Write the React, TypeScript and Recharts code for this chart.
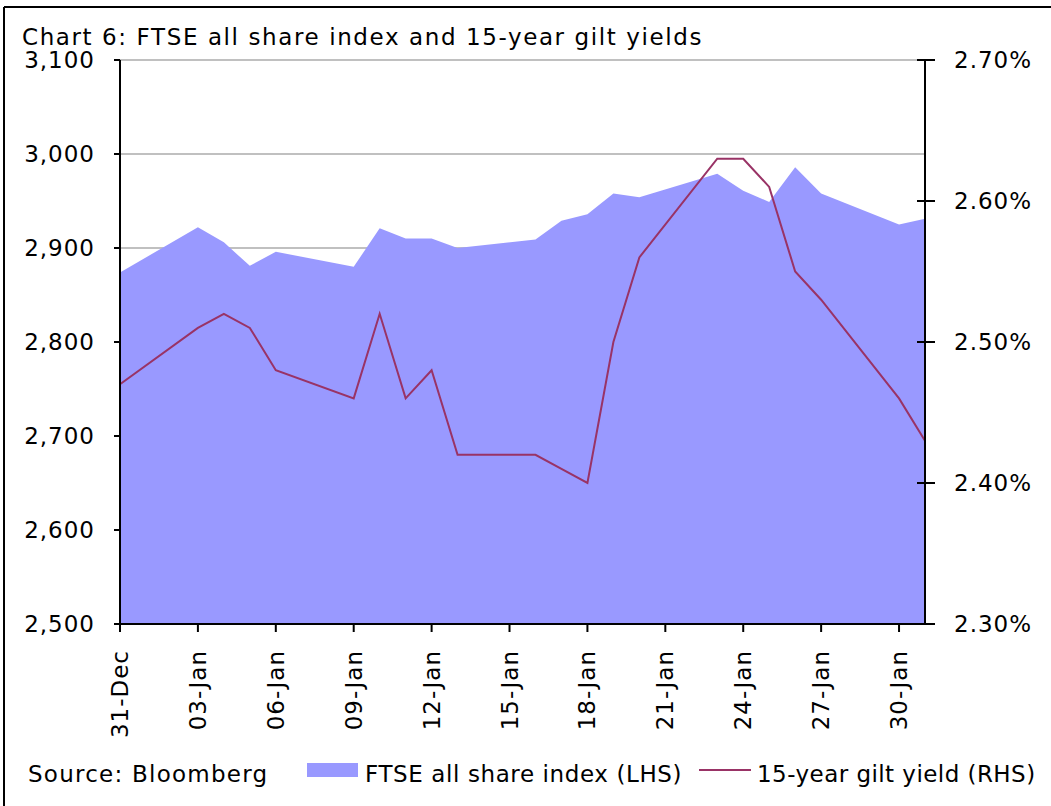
import React from "react";
import { ComposedChart, Area, Line, XAxis, YAxis, CartesianGrid } from "recharts";

/* ---------------- DATA ---------------- */
// calendar day offset from 31-Dec (trading days only)
const days = [0, 3, 4, 5, 6, 9, 10, 11, 12, 13, 16, 17, 18, 19, 20, 23, 24, 25, 26, 27, 30, 31];
const dates = [
  "31-Dec", "03-Jan", "04-Jan", "05-Jan", "06-Jan", "09-Jan", "10-Jan", "11-Jan",
  "12-Jan", "13-Jan", "16-Jan", "17-Jan", "18-Jan", "19-Jan", "20-Jan", "23-Jan",
  "24-Jan", "25-Jan", "26-Jan", "27-Jan", "30-Jan", "31-Jan",
];
const ftseIndex = [
  2874, 2922, 2906, 2881, 2896, 2880, 2921, 2910, 2910, 2900, 2909,
  2929, 2936, 2958, 2954, 2979, 2961, 2949, 2986, 2958, 2925, 2931,
];
const giltYield = [
  2.47, 2.51, 2.52, 2.51, 2.48, 2.46, 2.52, 2.46, 2.48, 2.42, 2.42,
  2.41, 2.40, 2.50, 2.56, 2.63, 2.63, 2.61, 2.55, 2.53, 2.46, 2.43,
];

const tickDays = [0, 3, 6, 9, 12, 15, 18, 21, 24, 27, 30];
const tickLabels = [
  "31-Dec", "03-Jan", "06-Jan", "09-Jan", "12-Jan", "15-Jan",
  "18-Jan", "21-Jan", "24-Jan", "27-Jan", "30-Jan",
];
const leftTicks = [2500, 2600, 2700, 2800, 2900, 3000, 3100];
const rightTicks = [2.3, 2.4, 2.5, 2.6, 2.7];

const data = days.map((d, i) => ({
  day: d,
  date: dates[i],
  ftse: ftseIndex[i],
  gilt: giltYield[i],
}));

/* ---------------- STYLE ---------------- */
const FONT = '"DejaVu Sans", Verdana, sans-serif';
const FS = 23;
const LS = 1;
const AREA = "#9999FF";
const LINE = "#993366";

/* ---------------- TICKS ---------------- */
const XTick = ({ x, y, payload }: any) => {
  const label = tickLabels[tickDays.indexOf(payload.value)] ?? "";
  return (
    <text
      x={x}
      y={y}
      transform={`rotate(-90, ${x}, ${y})`}
      textAnchor="end"
      dy="0.35em"
      fill="#000"
      fontSize={FS}
      fontFamily={FONT}
      letterSpacing={LS}
    >
      {label}
    </text>
  );
};

const LeftTick = ({ x, y, payload }: any) => (
  <text x={x} y={y} dy="0.35em" textAnchor="end" fill="#000" fontSize={FS} fontFamily={FONT} letterSpacing={LS}>
    {payload.value.toLocaleString("en-GB")}
  </text>
);

// right axis: tick crosses the axis line, label to the right
const R_SIZE = 10;
const R_MARGIN = 19;
const RightTick = ({ x, y, payload }: any) => {
  const ax = x - R_SIZE - R_MARGIN;
  return (
    <g>
      <line x1={ax - 8} x2={ax + R_SIZE} y1={y} y2={y} stroke="#000" strokeWidth={2} />
      <text x={x} y={y} dy="0.35em" textAnchor="start" fill="#000" fontSize={FS} fontFamily={FONT} letterSpacing={LS}>
        {payload.value.toFixed(2)}%
      </text>
    </g>
  );
};

/* ---------------- COMPONENT ---------------- */
export default function App() {
  return (
    <div style={{ position: "absolute", left: 0, top: 0, width: 1051, height: 806, background: "#fff" }}>
      <div style={{ position: "absolute", left: 0, top: 0 }}>
        <ComposedChart width={1051} height={806} data={data} margin={{ top: 60, right: 0, bottom: 0, left: 0 }}>
          <CartesianGrid yAxisId="left" vertical={false} stroke="#c0c0c0" strokeWidth={2} />
          <XAxis
            dataKey="day"
            type="number"
            domain={[0, 31]}
            ticks={tickDays}
            height={182}
            tick={<XTick />}
            tickSize={8}
            tickMargin={18}
            axisLine={{ stroke: "#000", strokeWidth: 2 }}
            tickLine={{ stroke: "#000", strokeWidth: 2 }}
            interval={0}
          />
          <YAxis
            yAxisId="left"
            orientation="left"
            width={120}
            domain={[2500, 3100]}
            ticks={leftTicks}
            tick={<LeftTick />}
            tickSize={6}
            tickMargin={19}
            axisLine={{ stroke: "#000", strokeWidth: 2 }}
            tickLine={{ stroke: "#000", strokeWidth: 2 }}
            interval={0}
          />
          <YAxis
            yAxisId="right"
            orientation="right"
            width={126}
            domain={[2.3, 2.7]}
            ticks={rightTicks}
            tick={<RightTick />}
            tickSize={R_SIZE}
            tickMargin={R_MARGIN}
            axisLine={{ stroke: "#000", strokeWidth: 2 }}
            tickLine={false}
            interval={0}
          />
          <Area
            yAxisId="left"
            dataKey="ftse"
            type="linear"
            fill={AREA}
            fillOpacity={1}
            stroke="none"
            baseValue={2500}
            isAnimationActive={false}
          />
          <Line
            yAxisId="right"
            dataKey="gilt"
            type="linear"
            stroke={LINE}
            strokeWidth={2}
            dot={false}
            isAnimationActive={false}
          />
        </ComposedChart>
      </div>

      {/* title, source, legend and frame */}
      <svg width={1051} height={806} style={{ position: "absolute", left: 0, top: 0, pointerEvents: "none" }}>
        <line x1={4} x2={4} y1={7} y2={806} stroke="#000" strokeWidth={2} />
        <line x1={4} x2={1051} y1={7} y2={7} stroke="#000" strokeWidth={2} />
        <text x={22} y={45} fontSize={FS} fontFamily={FONT} letterSpacing={1.6} fill="#000">
          Chart 6: FTSE all share index and 15-year gilt yields
        </text>
        <text x={28} y={782} fontSize={FS} fontFamily={FONT} letterSpacing={1.25} fill="#000">
          Source: Bloomberg
        </text>
        <rect x={307} y={763} width={51} height={14} fill={AREA} />
        <text x={365} y={782} fontSize={FS} fontFamily={FONT} letterSpacing={0.6} fill="#000">
          FTSE all share index (LHS)
        </text>
        <line x1={699} x2={751} y1={770} y2={770} stroke={LINE} strokeWidth={2} />
        <text x={757} y={782} fontSize={FS} fontFamily={FONT} letterSpacing={0.45} fill="#000">
          15-year gilt yield (RHS)
        </text>
      </svg>
    </div>
  );
}
